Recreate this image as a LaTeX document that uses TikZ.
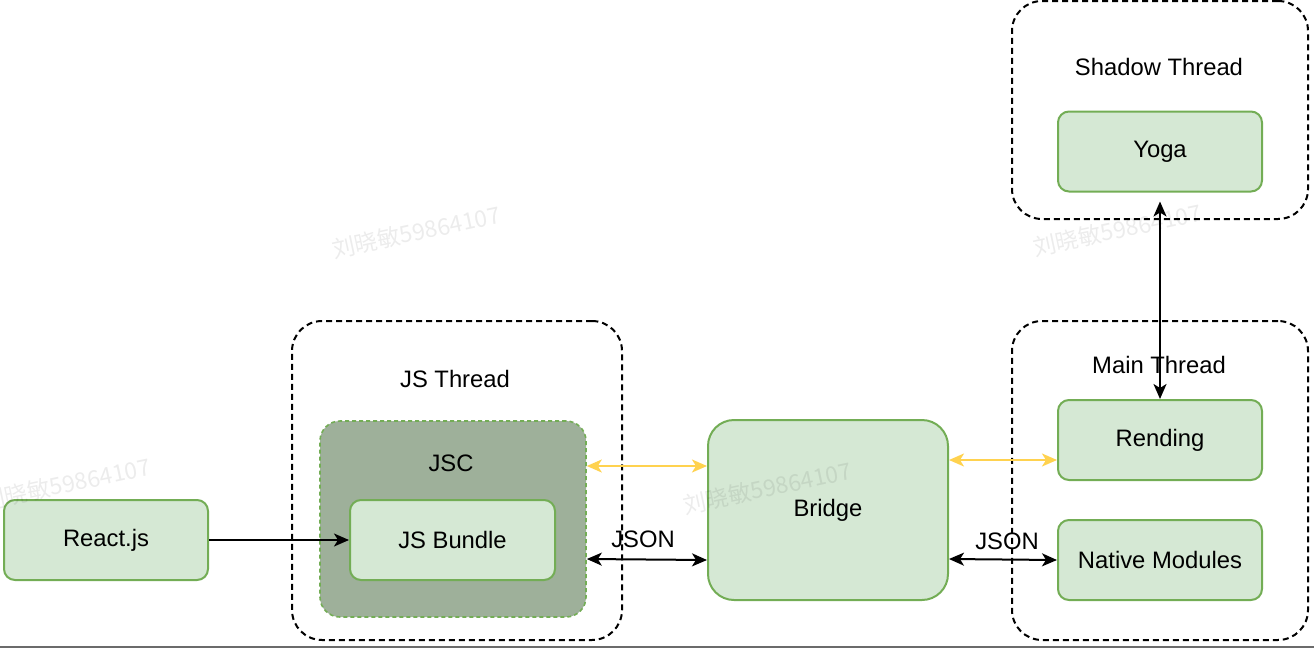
\documentclass[tikz,border=0pt]{standalone}
\usepackage{fontspec}
\setmainfont{Liberation Sans}
\newfontfamily\cjk{Noto Sans CJK SC}
\usetikzlibrary{arrows.meta}
\definecolor{gfill}{HTML}{D5E8D4}
\definecolor{gline}{HTML}{73AD55}
\definecolor{jscfill}{HTML}{9EB09A}
\definecolor{yel}{HTML}{FFD24F}
\tikzset{
  x=1pt, y=-1pt,
  every node/.style={font=\fontsize{23.8}{28}\selectfont, inner sep=0pt},
  gbox/.style={draw=gline, fill=gfill, line width=2pt, rounded corners=11pt, minimum width=204pt, minimum height=80pt},
  container/.style={draw=black, line width=2pt, dash pattern=on 6pt off 4pt, rounded corners=30pt},
  lbl/.style={},
  arr/.style={line width=2pt, -{Stealth[length=15pt,width=13pt,inset=4pt]}},
  darr/.style={line width=2pt, {Stealth[length=15pt,width=13pt,inset=4pt]}-{Stealth[length=15pt,width=13pt,inset=4pt]}},
  yarr/.style={draw=yel, line width=2pt, {Stealth[length=15pt,width=13pt,inset=4pt]}-{Stealth[length=15pt,width=13pt,inset=4pt]}},
  wmark/.style={text=black, text opacity=0.075, font=\cjk\fontsize{23}{27}\selectfont, rotate=12}
}
\begin{document}
\begin{tikzpicture}
\useasboundingbox (0,0) rectangle (1314,648);
% containers
\node[container, minimum width=296pt, minimum height=218pt] (shadow) at (1160,110) {};
\node[container, minimum width=296pt, minimum height=319pt] (main) at (1160,480.5) {};
\node[container, minimum width=330pt, minimum height=319pt] (jst) at (457,480.5) {};
\node[lbl] (shadowlbl) at (1159,67) {Shadow Thread};
\node[lbl] (mainlbl) at (1159,365) {Main Thread};
\node[lbl] (jstlbl) at (455,379) {JS Thread};
% JSC
\node[draw=gline, fill=jscfill, line width=1.6pt, dash pattern=on 4pt off 3pt, rounded corners=20pt, minimum width=266pt, minimum height=196pt] (jsc) at (453,519) {};
\node[lbl] (jsclbl) at (451,463) {JSC};
% boxes
\node[gbox] (yoga) at (1160,151.5) {Yoga};
\node[gbox] (rend) at (1160,440) {Rending};
\node[gbox] (native) at (1160,560) {Native Modules};
\node[gbox, minimum width=205pt] (bundle) at (452.5,540) {JS Bundle};
\node[gbox] (react) at (106,540) {React.js};
\node[gbox, rounded corners=26pt, minimum width=240pt, minimum height=180pt] (bridge) at (828,510) {Bridge};
% connectors
\draw[arr] (react.east) -- (bundle.west);
\draw[yarr] ([yshift=53pt]jsc.east) -- ([yshift=44pt]bridge.west);
\draw[darr] ([yshift=-40pt]jsc.east) -- ([yshift=-50pt]bridge.west);
\node[lbl] (json1) at (643,539) {JSON};
\draw[yarr] ([yshift=50pt]bridge.east) -- ([yshift=-20pt]rend.west);
\draw[darr] ([yshift=-49pt]bridge.east) -- (native.west);
\node[lbl] (json2) at (1007,541) {JSON};
\draw[darr] ([yshift=-9pt]yoga.south) -- (rend.north);
% watermarks
\node[wmark] (w1) at (416,232) {刘晓敏59864107};
\node[wmark] (w2) at (66,484) {刘晓敏59864107};
\node[wmark] (w3) at (767,488) {刘晓敏59864107};
\node[wmark] (w4) at (1117,230) {刘晓敏59864107};
% bottom strip
\fill[black!58] (0,645.5) rectangle (1314,648);
\end{tikzpicture}
\end{document}
